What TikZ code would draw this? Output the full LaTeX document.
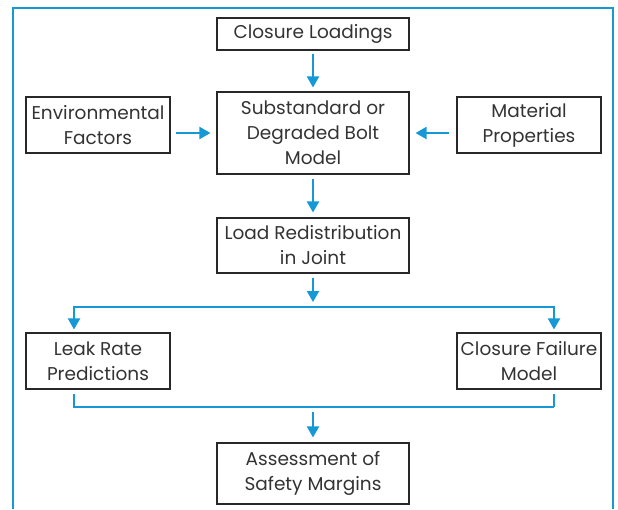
\documentclass[tikz,border=0pt]{standalone}
\usepackage{fontspec}
\setmainfont{Poppins}
\usetikzlibrary{arrows.meta}
\definecolor{flowblue}{RGB}{20,152,214}
\definecolor{boxline}{RGB}{40,40,40}
\begin{document}
\begin{tikzpicture}[x=1pt,y=-1pt,
  box/.style={draw=boxline,line width=1.1pt,align=center,inner sep=0pt,
    font=\fontsize{18.5}{25}\selectfont,text=black!80},
  wide/.style={box,minimum width=192pt},
  side/.style={box,minimum width=144pt,minimum height=56pt},
  link/.style={draw=flowblue,line width=2pt},
  arr/.style={link,-{Triangle[length=11pt,width=12pt]}}]
\useasboundingbox (0,0) rectangle (618,509);
\draw[link] (13,509) -- (13,8) -- (613,8) -- (613,509);
\node[wide,minimum height=32pt] (cl) at (313,34) {Closure Loadings};
\node[wide,minimum height=82pt] (sub) at (313,133) {Substandard or\\Degraded Bolt\\Model};
\node[side] (env) at (98,125) {Environmental\\Factors};
\node[side] (mat) at (529,125) {Material\\Properties};
\node[wide,minimum height=55pt] (load) at (313,245.5) {Load Redistribution\\in Joint};
\node[side] (leak) at (98,361) {Leak Rate\\Predictions};
\node[side] (cf) at (529,361) {Closure Failure\\Model};
\node[wide,minimum height=61pt] (as) at (313,473.5) {Assessment of\\Safety Margins};
\coordinate (jt) at (313,307);
\coordinate (jl) at (74,307);
\coordinate (jr) at (554,307);
\coordinate (bl) at (74,407);
\coordinate (br) at (554,407);
\draw[arr,shorten <=3pt,shorten >=4pt] (cl.south) -- (sub.north);
\draw[arr,shorten <=5pt,shorten >=6pt] (env.east |- sub.center) -- (sub.west |- sub.center);
\draw[arr,shorten <=7pt,shorten >=6pt] (mat.west |- sub.center) -- (sub.east |- sub.center);
\draw[arr,shorten <=4pt,shorten >=5pt] (sub.south) -- (load.north);
\draw[arr,shorten <=4pt,shorten >=5pt] (load.south) -- (jt);
\draw[link] (jl) -- (jr);
\draw[arr,shorten <=-1pt,shorten >=3pt] (jl) -- (jl |- leak.north);
\draw[arr,shorten <=-1pt,shorten >=3pt] (jr) -- (jr |- cf.north);
\draw[link,shorten <=4pt] (bl |- leak.south) -- (bl) -- (br);
\draw[link,shorten <=4pt] (br |- cf.south) -- (br);
\draw[arr,shorten <=5pt,shorten >=5pt] (bl -| as.north) -- (as.north);
\end{tikzpicture}
\end{document}
